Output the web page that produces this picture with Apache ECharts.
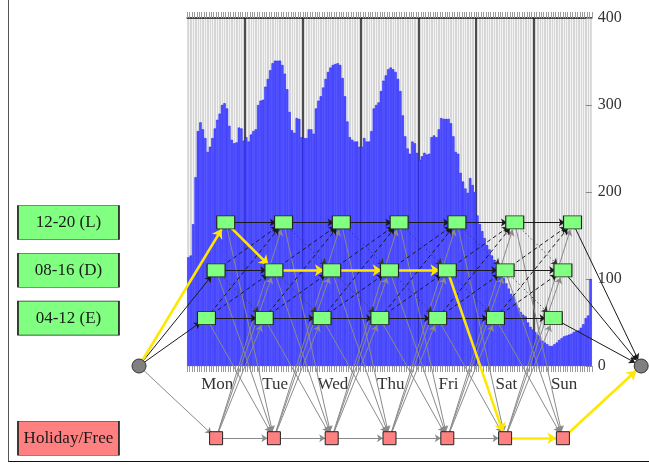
<!DOCTYPE html>
<html>
<head>
<meta charset="utf-8">
<script src="https://cdn.jsdelivr.net/npm/echarts@6/dist/echarts.min.js"></script>
<style>
  html, body { margin: 0; padding: 0; background: #fff; }
  #wrap { position: relative; width: 649px; height: 466px; overflow: hidden; }
  #chart { position: absolute; left: 0; top: 0; width: 649px; height: 466px; }
  #frame { position: absolute; left: 8px; top: -2px; width: 660px; height: 463px;
           border-left: 1.4px solid #555; border-bottom: 1.4px solid #111; pointer-events: none; }
</style>
</head>
<body>
<div id="wrap"><div id="chart"></div><div id="frame"></div></div>
<script>
// ---------------- data ----------------
const days = ['Mon', 'Tue', 'Wed', 'Thu', 'Fri', 'Sat', 'Sun'];

// hourly demand, one array per day (24 values each)
const demandMon = [125, 127, 163, 217, 270, 280, 272, 262, 246, 252, 262, 273, 283, 290, 300, 302, 296, 276, 260, 256, 257, 274, 273, 259];
const demandTue = [263, 258, 266, 270, 272, 300, 305, 306, 321, 330, 340, 348, 351, 351, 351, 346, 336, 318, 292, 271, 268, 285, 284, 263];
const demandWed = [262, 262, 272, 272, 267, 296, 305, 310, 320, 330, 338, 343, 346, 347, 348, 346, 331, 310, 281, 263, 260, 258, 258, 252];
const demandThu = [252, 262, 258, 258, 270, 296, 300, 303, 316, 328, 334, 341, 343, 341, 338, 330, 316, 288, 264, 250, 244, 258, 256, 245];
const demandFri = [237, 241, 245, 243, 244, 263, 265, 263, 272, 285, 284, 284, 284, 279, 264, 246, 244, 222, 212, 204, 199, 216, 208, 200];
const demandSat = [173, 163, 155, 147, 139, 134, 127, 122, 114, 110, 106, 101, 95, 89, 83, 80, 73, 67, 62, 59, 57, 50, 45, 42];
const demandSun = [39, 36, 34, 29, 27, 25, 23, 23, 25, 27, 30, 32, 34, 35, 36, 37, 39, 40, 41, 44, 48, 55, 58, 100];

const yTicks = [0, 100, 200, 300, 400];

// shifts (network layers)
const shiftCodes  = ['L', 'D', 'E'];
const shiftLabels = ['12-20 (L)', '08-16 (D)', '04-12 (E)'];
const shiftStart  = [12, 8, 4];
const shiftEnd    = [20, 16, 12];
const holidayLabel = 'Holiday/Free';

// highlighted roster (one assignment per day)
const chosenPath = ['L', 'D', 'D', 'D', 'D', 'H', 'H'];

// ---------------- derived ----------------
const demand = [].concat(demandMon, demandTue, demandWed, demandThu, demandFri, demandSat, demandSun);
const hoursPerDay = 24;
const hourCategories = demand.map((_, i) => days[Math.floor(i / hoursPerDay)] + ' ' + String(i % hoursPerDay).padStart(2, '0') + ':00');

// ---------------- layout constants (network drawn in axis units) ----------------
const LEVEL = { L: 165, D: 110, E: 55, H: -83 };
const SOURCE_X = -20, SINK_X = 188.5, LEGEND_X = -49.3;
const FONT = 'Liberation Serif, DejaVu Serif, serif';
const GREEN = '#80ff80', RED = '#ff8080', EDGE = '#222';

const nodes = [];
const shiftNodeStyle = { color: GREEN, borderColor: EDGE, borderWidth: 1 };
const holNodeStyle = { color: RED, borderColor: EDGE, borderWidth: 1 };
const endStyle = { color: '#808080', borderColor: '#333', borderWidth: 1 };

nodes.push({ name: 'source', value: [SOURCE_X, 0], symbol: 'circle', symbolSize: 14, itemStyle: endStyle });
nodes.push({ name: 'sink', value: [SINK_X, 0], symbol: 'circle', symbolSize: 14, itemStyle: endStyle });
days.forEach((d, di) => {
  shiftCodes.forEach((c, k) => {
    nodes.push({ name: c + di, value: [di * hoursPerDay + (shiftStart[k] + shiftEnd[k]) / 2, LEVEL[c]],
                 symbol: 'rect', symbolSize: [18, 13], itemStyle: shiftNodeStyle });
  });
  nodes.push({ name: 'H' + di, value: [di * hoursPerDay + hoursPerDay / 2, LEVEL.H],
               symbol: 'rect', symbolSize: [13, 13], itemStyle: holNodeStyle });
});
// legend boxes
const legendLabel = { show: true, position: 'inside', formatter: '{b}', fontFamily: FONT, fontSize: 17, color: '#1a1a1a' };
shiftCodes.forEach((c, k) => {
  nodes.push({ name: shiftLabels[k], value: [LEGEND_X, LEVEL[c]], symbol: 'rect', symbolSize: [101, 34],
               itemStyle: shiftNodeStyle, label: legendLabel });
});
nodes.push({ name: holidayLabel, value: [LEGEND_X, LEVEL.H], symbol: 'rect', symbolSize: [101, 34],
             itemStyle: holNodeStyle, label: legendLabel });

// edges
const edgeStyles = {
  same: { lineStyle: { color: '#1a1a1a', width: 1, type: 'solid' }, size: 6 },
  fwd:  { lineStyle: { color: '#1a1a1a', width: 1, type: [4, 3] }, size: 6 },
  back: { lineStyle: { color: '#333', width: 1, type: [1.2, 2.6] }, size: 6 },
  free: { lineStyle: { color: '#8a8a8a', width: 1, type: 'solid' }, size: 6 },
  path: { lineStyle: { color: '#ffe800', width: 2.6, type: 'solid' }, size: 9 }
};
const pathSet = new Set();
let prev = 'source';
chosenPath.forEach((c, di) => { pathSet.add(prev + '>' + c + di); prev = c + di; });
pathSet.add(prev + '>sink');

const normalLinks = [], pathLinks = [];
function addLink(s, t, kind) {
  const isPath = pathSet.has(s + '>' + t);
  const st = edgeStyles[isPath ? 'path' : kind];
  const link = { source: s, target: t, symbol: ['none', 'arrow'], symbolSize: [1, st.size], lineStyle: st.lineStyle };
  (isPath ? pathLinks : normalLinks).push(link);
}
const rank = { E: 0, D: 1, L: 2 };
shiftCodes.forEach(c => addLink('source', c + '0', 'same'));
addLink('source', 'H0', 'free');
for (let di = 0; di < days.length - 1; di++) {
  shiftCodes.forEach(a => {
    shiftCodes.forEach(b => {
      const diff = rank[b] - rank[a];
      if (diff === 0) addLink(a + di, b + (di + 1), 'same');
      else if (diff > 0) addLink(a + di, b + (di + 1), 'fwd');
      else if (diff === -1) addLink(a + di, b + (di + 1), 'back');
    });
    addLink(a + di, 'H' + (di + 1), 'free');
    addLink('H' + di, a + (di + 1), 'free');
  });
  addLink('H' + di, 'H' + (di + 1), 'free');
}
shiftCodes.forEach(c => addLink(c + (days.length - 1), 'sink', 'same'));
addLink('H' + (days.length - 1), 'sink', 'free');
const links = normalLinks.concat(pathLinks);

// ---------------- chart ----------------
const chart = echarts.init(document.getElementById('chart'));
chart.setOption({
  animation: false,
  backgroundColor: '#fff',
  grid: { left: 187.2, right: 57.2, top: 18, bottom: 100, show: true, backgroundColor: '#d6d6d6', borderWidth: 0,
          containLabel: false, outerBoundsMode: 'none' },
  xAxis: [
    { type: 'category', data: hourCategories, position: 'bottom', boundaryGap: true,
      axisLine: { show: false, onZero: false },
      axisTick: { show: true, interval: 0, length: 6, lineStyle: { color: '#9a9a9a', width: 1 } },
      axisLabel: { interval: (i) => i % hoursPerDay === 12, formatter: (v, i) => days[Math.floor(i / hoursPerDay)],
                   margin: 10, fontFamily: FONT, fontSize: 17, color: '#333' },
      splitLine: { show: false } },
    { type: 'value', position: 'top', min: 0, max: days.length * hoursPerDay, interval: hoursPerDay,
      axisLine: { show: true, onZero: false, lineStyle: { color: '#111', width: 1.5 } },
      axisTick: { show: true, length: 6, lineStyle: { color: '#9a9a9a' } },
      minorTick: { show: true, splitNumber: hoursPerDay, length: 6, lineStyle: { color: '#9a9a9a' } },
      axisLabel: { show: false },
      splitLine: { show: true, showMinLine: false, showMaxLine: false, lineStyle: { color: '#2a2a2a', width: 1.6 } },
      minorSplitLine: { show: true, lineStyle: { color: '#fafafa', width: 0.8 } } }
  ],
  yAxis: [
    { type: 'value', position: 'right', min: yTicks[0], max: yTicks[yTicks.length - 1], interval: yTicks[1] - yTicks[0],
      axisLine: { show: false, onZero: false },
      axisTick: { show: true, inside: true, length: 6, lineStyle: { color: '#888' } },
      axisLabel: { margin: 6, fontFamily: FONT, fontSize: 16, color: '#333' },
      splitLine: { show: false } }
  ],
  series: [
    { type: 'bar', name: 'demand', xAxisIndex: 0, yAxisIndex: 0, data: demand, barCategoryGap: '0%', z: 3, silent: true,
      itemStyle: { color: '#5252ff', borderColor: '#1a1aff', borderWidth: 0.5 } },
    { type: 'graph', coordinateSystem: 'cartesian2d', xAxisIndex: 1, yAxisIndex: 0, layout: 'none', z: 5, silent: true,
      data: nodes, links: links, label: { show: false },
      lineStyle: { opacity: 1, curveness: 0 },
      emphasis: { disabled: true } }
  ]
});
</script>
</body>
</html>
